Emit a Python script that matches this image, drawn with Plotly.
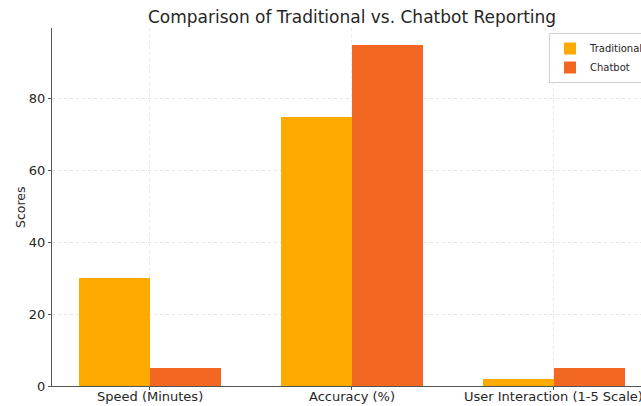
import plotly.graph_objects as go

categories = ["Speed (Minutes)", "Accuracy (%)", "User Interaction (1-5 Scale)"]
traditional = [30, 75, 2]
chatbot = [5, 95, 5]
yticks = [0, 20, 40, 60, 80]

pos = list(range(len(categories)))
font = "DejaVu Sans"
textc = "#262626"

fig = go.Figure()
fig.add_trace(go.Bar(x=pos, y=traditional, name="Traditional", width=0.35, offset=-0.35,
                     marker=dict(color="#FFAA00", line=dict(width=0))))
fig.add_trace(go.Bar(x=pos, y=chatbot, name="Chatbot", width=0.35, offset=0,
                     marker=dict(color="#F26822", line=dict(width=0))))

# category labels as annotations so they are not dropped at the edge
for p, c in zip(pos, categories):
    fig.add_annotation(x=p, y=0, xref="x", yref="y", text=c, showarrow=False,
                       xanchor="center", yanchor="top", yshift=-1,
                       font=dict(size=13, color=textc))
fig.add_annotation(x=(20-52)/589, y=0.5, xref="paper", yref="paper", text="Scores",
                   showarrow=False, textangle=-90, xanchor="center", yanchor="middle",
                   font=dict(size=12.5, color=textc))

fig.update_layout(
    width=641, height=406,
    margin=dict(l=52, r=0, t=28, b=20, autoexpand=False),
    paper_bgcolor="white", plot_bgcolor="white",
    font=dict(family=font, color=textc, size=13),
    title=dict(text="Comparison of Traditional vs. Chatbot Reporting",
               x=352/641, xanchor="center", y=1-17/406, yanchor="middle",
               font=dict(size=17, color=textc)),
    bargap=0,
    showlegend=True,
    legend=dict(x=(549-52)/589, xanchor="left", y=1-(33-28)/358, yanchor="top",
                bgcolor="rgba(255,255,255,0.8)", bordercolor="#D0D0D0", borderwidth=1,
                font=dict(size=10, color=textc), itemwidth=30, tracegroupgap=0),
    xaxis=dict(range=[-0.485, 2.431], tickvals=pos, ticktext=["", "", ""],
               showgrid=True, gridcolor="#EBEBEB", griddash="dot", gridwidth=1,
               showline=True, linecolor="#555555", linewidth=1.2,
               ticks="outside", ticklen=3, tickcolor="#555555",
               zeroline=False, automargin=False),
    yaxis=dict(range=[0, 99.75], tickvals=yticks,
               showgrid=True, gridcolor="#E6E6E6", griddash="dot", gridwidth=1,
               showline=True, linecolor="#555555", linewidth=1.2,
               ticks="outside", ticklen=3, tickcolor="#555555",
               zeroline=False, automargin=False, tickfont=dict(size=13)),
)

fig.write_html("out.html")
